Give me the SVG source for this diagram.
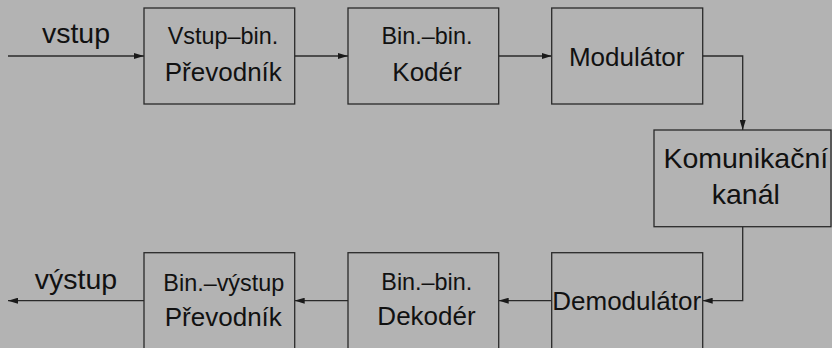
<svg xmlns="http://www.w3.org/2000/svg" width="832" height="348" viewBox="0 0 832 348">
<style>
.box{fill:#b3b3b3;stroke:#2a2a2a;stroke-width:1.3}
.ln{fill:none;stroke:#2a2a2a;stroke-width:1.3}
text{font-family:"Liberation Sans",Arial,sans-serif;fill:#111;text-anchor:middle}
.s{font-size:23.4px}
.m{font-size:26px}
.l{font-size:28.5px}
</style>
<defs>
<marker id="ah" viewBox="0 0 10 6" refX="10" refY="3" markerWidth="10" markerHeight="6" markerUnits="userSpaceOnUse" orient="auto">
<path d="M0,0 L10,3 L0,6 z" fill="#1a1a1a"/>
</marker>
</defs>
<rect x="0" y="0" width="832" height="348" fill="#b3b3b3"/>
<g id="connectors">
<line class="ln" x1="8" y1="56" x2="144" y2="56" marker-end="url(#ah)"/>
<line class="ln" x1="294.7" y1="56" x2="348" y2="56" marker-end="url(#ah)"/>
<line class="ln" x1="498.7" y1="56" x2="551.7" y2="56" marker-end="url(#ah)"/>
<polyline class="ln" points="702.7,56 742.7,56 742.7,130" marker-end="url(#ah)"/>
<polyline class="ln" points="742.7,226.7 742.7,300.7 702.7,300.7" marker-end="url(#ah)"/>
<line class="ln" x1="551.7" y1="300.7" x2="498.7" y2="300.7" marker-end="url(#ah)"/>
<line class="ln" x1="348" y1="300.7" x2="294.7" y2="300.7" marker-end="url(#ah)"/>
<line class="ln" x1="144" y1="300.7" x2="8" y2="300.7" marker-end="url(#ah)"/>
</g>
<g id="label-vstup"><text class="l" x="76" y="43.3">vstup</text></g>
<g id="label-vystup"><text class="l" x="76" y="289.3">výstup</text></g>
<g id="n1">
<rect class="box" x="144" y="8" width="150.7" height="96"/>
<text class="s" x="223" y="44.3">Vstup–bin.</text>
<text class="m" x="223.3" y="81">Převodník</text>
</g>
<g id="n2">
<rect class="box" x="348" y="8" width="150.7" height="96"/>
<text class="s" x="427" y="44.3">Bin.–bin.</text>
<text class="m" x="427" y="81">Kodér</text>
</g>
<g id="n3">
<rect class="box" x="551.7" y="8" width="151" height="96"/>
<text class="m" x="626.7" y="66">Modulátor</text>
</g>
<g id="n4">
<rect class="box" x="654" y="130" width="177" height="96.7"/>
<text class="l" x="745.8" y="168">Komunikační</text>
<text class="l" x="745.8" y="204">kanál</text>
</g>
<g id="n5">
<rect class="box" x="551.7" y="252.7" width="151" height="100"/>
<text class="m" x="626.7" y="310">Demodulátor</text>
</g>
<g id="n6">
<rect class="box" x="348" y="252.7" width="150.7" height="100"/>
<text class="s" x="426.8" y="290">Bin.–bin.</text>
<text class="m" x="426.5" y="325">Dekodér</text>
</g>
<g id="n7">
<rect class="box" x="144" y="252.7" width="150.7" height="100"/>
<text class="s" x="223.8" y="290.5">Bin.–výstup</text>
<text class="m" x="223.3" y="326">Převodník</text>
</g>
</svg>
